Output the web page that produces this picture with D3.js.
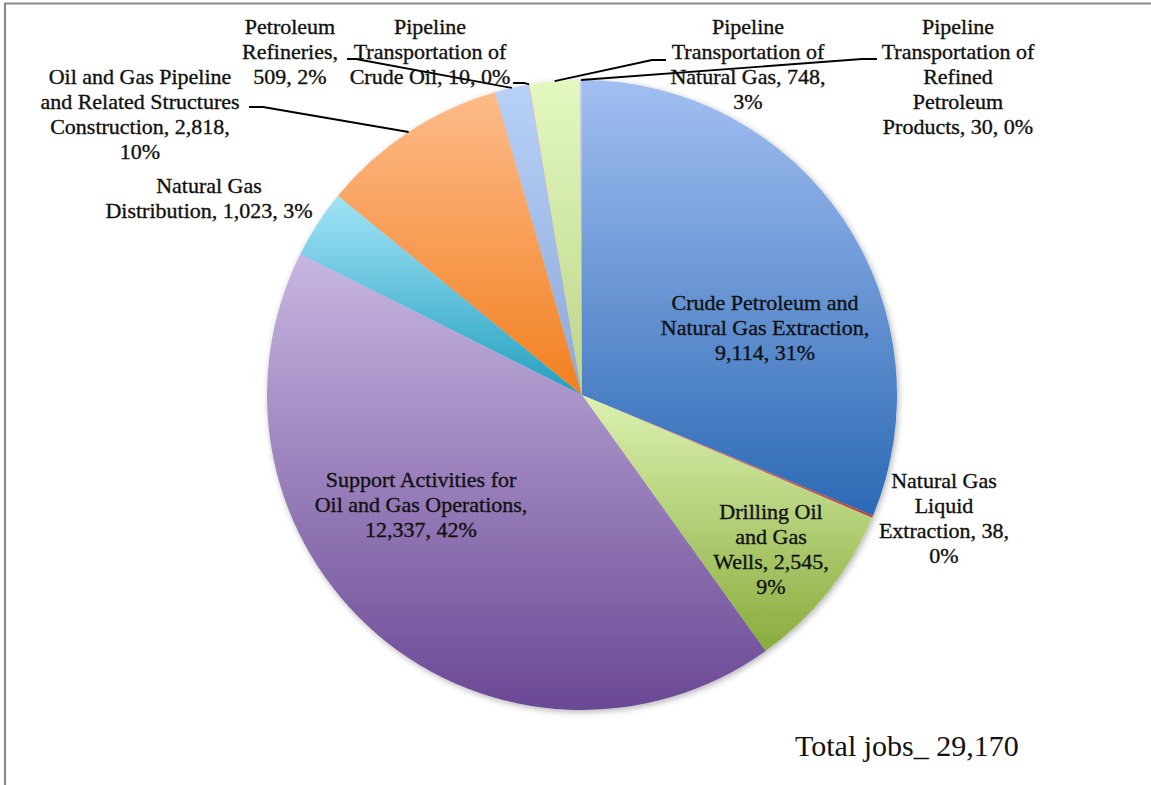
<!DOCTYPE html>
<html><head><meta charset="utf-8">
<script src="https://cdn.jsdelivr.net/npm/d3@7/dist/d3.min.js"></script>
<style>body{margin:0;background:#fff}svg{display:block}</style>
</head><body>
<svg id="c" width="1151" height="785"></svg>
<script>
// ---- data ----
const categories = [
  "Crude Petroleum and Natural Gas Extraction",
  "Natural Gas Liquid Extraction",
  "Drilling Oil and Gas Wells",
  "Support Activities for Oil and Gas Operations",
  "Natural Gas Distribution",
  "Oil and Gas Pipeline and Related Structures Construction",
  "Petroleum Refineries",
  "Pipeline Transportation of Crude Oil",
  "Pipeline Transportation of Natural Gas",
  "Pipeline Transportation of Refined Petroleum Products"
];
const values = [9114, 38, 2545, 12337, 1023, 2818, 509, 10, 748, 30];
const percentLabels = ["31%", "0%", "9%", "42%", "3%", "10%", "2%", "0%", "3%", "0%"];
const labelLines = [
  ["Crude Petroleum and", "Natural Gas Extraction,", "9,114, 31%"],
  ["Natural Gas", "Liquid", "Extraction, 38,", "0%"],
  ["Drilling Oil", "and Gas", "Wells, 2,545,", "9%"],
  ["Support Activities for", "Oil and Gas Operations,", "12,337, 42%"],
  ["Natural Gas", "Distribution, 1,023, 3%"],
  ["Oil and Gas Pipeline", "and Related Structures", "Construction, 2,818,", "10%"],
  ["Petroleum", "Refineries,", "509, 2%"],
  ["Pipeline", "Transportation of", "Crude Oil, 10, 0%"],
  ["Pipeline", "Transportation of", "Natural Gas, 748,", "3%"],
  ["Pipeline", "Transportation of", "Refined", "Petroleum", "Products, 30, 0%"]
];
const totalLabel = "Total jobs_ 29,170";

// ---- styles / layout ----
const gradTop = ["#a2bff2","#e59a98","#dcf1b0","#c7b6e1","#a2e3f7","#fdbb8a","#b8d1f8","#eab4b2","#e3f8c0","#d2c5e8"];
const gradBot = ["#2b69b4","#b8403c","#89ac3d","#6a4894","#22a0bf","#f27f1f","#8ca8d9","#d99591","#bdd487","#a994c9"];
const cx = 582, cy = 395, R = 315;
const labelPos = [
  [765, 310], [944, 488], [771, 519], [421, 487], [209, 193],
  [140, 84], [290, 34], [430, 34], [748, 34], [958, 34]
];
const leaderPts = {
  5: [[249,107],[263,107]],
  6: [[347,59],[356,59]],
  7: [[513,83],[524,83]],
  8: [[666,60],[652,60]],
  9: [[877,59],[862,59]]
};
const lineH = 25;

const svg = d3.select("#c");
const defs = svg.append("defs");
const f = defs.append("filter").attr("id","sh").attr("x","-10%").attr("y","-10%").attr("width","120%").attr("height","120%");
f.append("feDropShadow").attr("dx",1.5).attr("dy",2).attr("stdDeviation",3).attr("flood-color","#000").attr("flood-opacity",0.3);

values.forEach((v,i)=>{
  const g = defs.append("linearGradient").attr("id","g"+i).attr("x1",0).attr("y1",0).attr("x2",0).attr("y2",1);
  g.append("stop").attr("offset","0%").attr("stop-color",gradTop[i]);
  g.append("stop").attr("offset","100%").attr("stop-color",gradBot[i]);
});

// frame
svg.append("path").attr("d","M5,785V3.5H1151").attr("fill","none").attr("stroke","#8a8a8a").attr("stroke-width",2.2);

const pie = d3.pie().sort(null).value(d=>d)(values);
const arc = d3.arc().innerRadius(0).outerRadius(R);

const gp = svg.append("g").attr("transform",`translate(${cx},${cy})`);
gp.append("g").attr("filter","url(#sh)")
  .selectAll("path").data(pie).join("path")
  .attr("d",arc)
  .attr("fill",(d,i)=>`url(#g${i})`);

// leader lines
const leaderG = svg.append("g").attr("fill","none").attr("stroke","#000").attr("stroke-width",1.8);
pie.forEach((d,i)=>{
  if(!leaderPts[i]) return;
  const a = (d.startAngle + d.endAngle)/2;
  const end = [cx + R*Math.sin(a), cy - R*Math.cos(a)];
  const pts = leaderPts[i].concat([end]);
  leaderG.append("path").attr("d", d3.line()(pts));
});

// labels
const lg = svg.append("g").attr("font-family","'Liberation Serif','Times New Roman',serif")
  .attr("font-size",22).attr("fill","#111").attr("stroke","#111").attr("stroke-width",0.35)
  .attr("text-anchor","middle");
labelLines.forEach((lines,i)=>{
  const t = lg.append("text").attr("x",labelPos[i][0]).attr("y",labelPos[i][1]);
  lines.forEach((s,k)=>{
    t.append("tspan").attr("x",labelPos[i][0]).attr("y",labelPos[i][1]+k*lineH).text(s);
  });
});

svg.append("text").attr("x",795).attr("y",756)
  .attr("font-family","'Liberation Serif','Times New Roman',serif")
  .attr("font-size",30).attr("fill","#111").text(totalLabel);
</script>
</body></html>
